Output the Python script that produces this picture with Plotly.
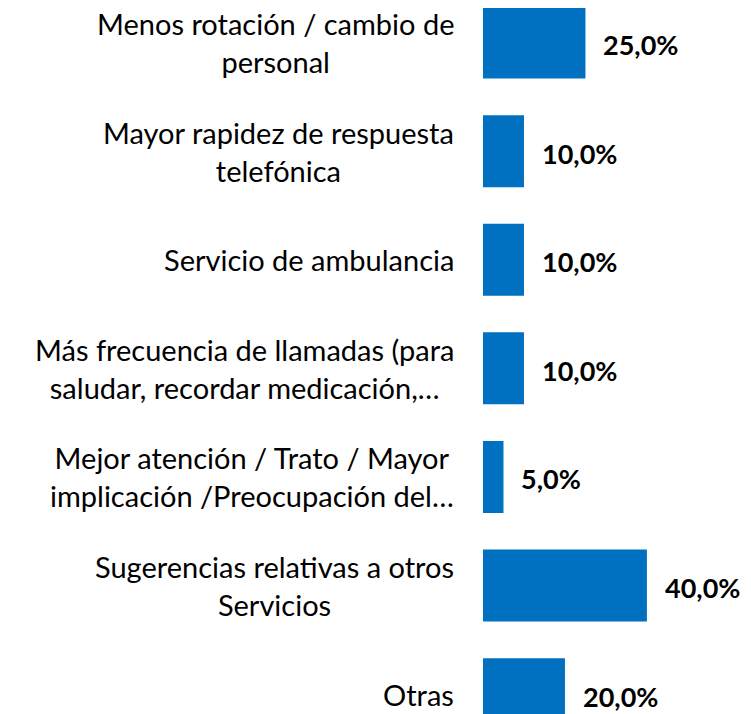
import plotly.graph_objects as go

categories = [
    "Menos rotación / cambio de<br>personal",
    "Mayor rapidez de respuesta<br>telefónica",
    "Servicio de ambulancia",
    "Más frecuencia de llamadas (para<br>saludar, recordar medicación,…",
    "Mejor atención / Trato / Mayor<br>implicación /Preocupación del…",
    "Sugerencias relativas a otros<br>Servicios",
    "Otras",
]
values = [25.0, 10.0, 10.0, 10.0, 5.0, 40.0, 20.0]
value_labels = [f"{v:.1f}".replace(".", ",") + "%" for v in values]

FONT = "Lato"
BAR_COLOR = "#0070C0"

fig = go.Figure()
fig.add_trace(go.Bar(
    x=values,
    y=list(range(len(categories))),
    orientation="h",
    width=0.663,
    marker=dict(color=BAR_COLOR, line=dict(width=0)),
    hoverinfo="skip",
))

annotations = []
for i, (cat, v, lab) in enumerate(zip(categories, values, value_labels)):
    annotations.append(dict(
        x=0, y=i, xref="x", yref="y", text=cat, showarrow=False,
        xanchor="right", yanchor="middle", align="center", xshift=-27,
        font=dict(family=FONT, size=29, color="#000000"),
    ))
    annotations.append(dict(
        x=v, y=i, xref="x", yref="y", text=f"<b>{lab}</b>", showarrow=False,
        xanchor="left", yanchor="middle", align="left", xshift=16, yshift=-2,
        font=dict(family=FONT, size=27, color="#000000"),
    ))

# page body has an 8px default margin; figure fills the rest of the 751x714 window
fig.update_layout(
    width=743, height=706,
    margin=dict(l=475, r=0, t=0, b=0),
    paper_bgcolor="white", plot_bgcolor="white",
    showlegend=False,
    annotations=annotations,
    xaxis=dict(range=[0, 65.4], visible=False, fixedrange=True),
    yaxis=dict(range=[6.183, -0.318], visible=False, fixedrange=True),
)

fig.write_html("out.html")
